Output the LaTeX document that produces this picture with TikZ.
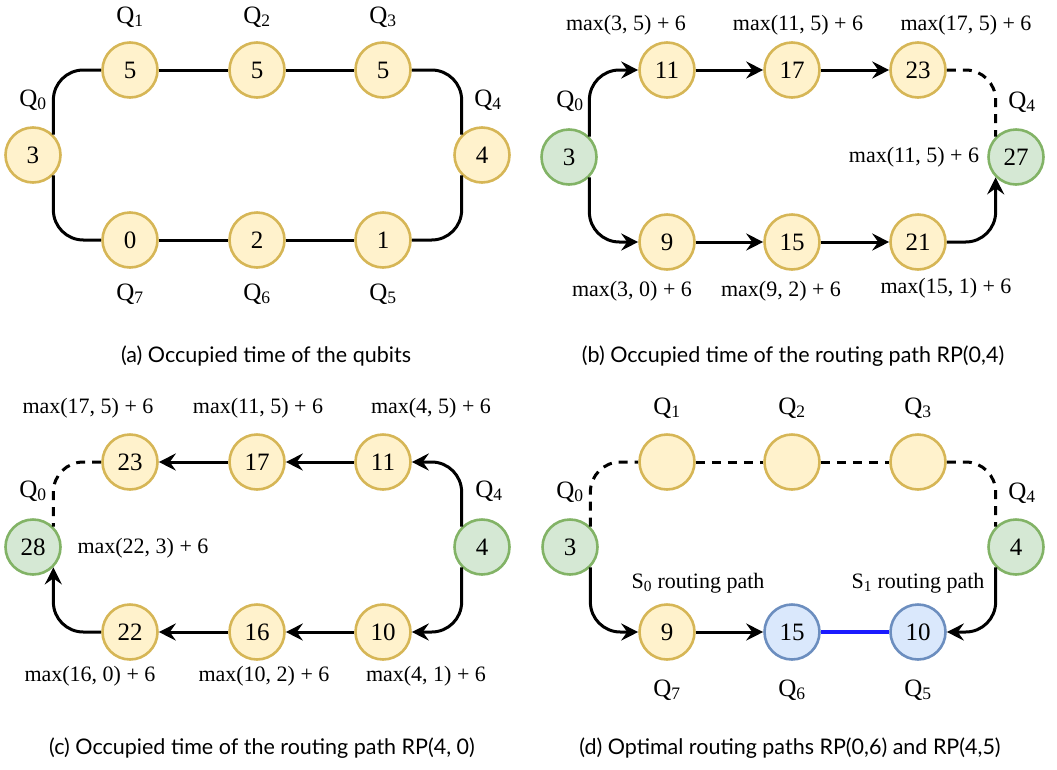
\documentclass[tikz,border=0pt]{standalone}
\usepackage{fontspec}
\setmainfont{Liberation Serif}
\newfontfamily\capfont{Lato}
\usetikzlibrary{arrows.meta}
\definecolor{ylwfill}{HTML}{FFF2CC}
\definecolor{ylwline}{HTML}{D6B656}
\definecolor{grnfill}{HTML}{D5E8D4}
\definecolor{grnline}{HTML}{82B366}
\definecolor{blufill}{HTML}{DAE8FC}
\definecolor{bluline}{HTML}{6C8EBF}
\definecolor{pathblue}{HTML}{1A1AFF}
\begin{document}
\begin{tikzpicture}[x=1pt, y=-1pt,
  qubit/.style={circle, draw=ylwline, fill=ylwfill, line width=2.6pt,
    minimum size=55pt, inner sep=0pt, font=\fontsize{25}{29}\selectfont},
  qgreen/.style={qubit, draw=grnline, fill=grnfill},
  qblue/.style={qubit, draw=bluline, fill=blufill},
  link/.style={line width=3pt, rounded corners=30pt},
  hop/.style={link, -{Stealth[length=17pt, width=17pt, inset=6pt]}},
  idle/.style={link, dash pattern=on 9pt off 7pt},
  tag/.style={font=\fontsize{22}{26}\selectfont},
  qname/.style={font=\fontsize{25}{29}\selectfont},
  caption/.style={font=\capfont\fontsize{21.5}{25}\selectfont}]
  \useasboundingbox (0,0) rectangle (1057,769);

  % (a) occupied time of every qubit
  \node[qubit] (a0) at (33,155) {3};
  \node[qubit] (a1) at (130,70) {5};
  \node[qubit] (a2) at (257,70) {5};
  \node[qubit] (a3) at (383,70) {5};
  \node[qubit] (a4) at (482,155) {4};
  \node[qubit] (a5) at (383,240) {1};
  \node[qubit] (a6) at (257,240) {2};
  \node[qubit] (a7) at (130,240) {0};
  \draw[link] (a0.north east) |- (a1.west);
  \draw[link] (a1) -- (a2) -- (a3);
  \draw[link] (a3.east) -| (a4.north west);
  \draw[link] (a0.south east) |- (a7.west);
  \draw[link] (a7) -- (a6) -- (a5);
  \draw[link] (a5.east) -| (a4.south west);
  \node[qname] (qa0) at (33,100) {Q\textsubscript{0}};
  \node[qname] (qa1) at (130,17) {Q\textsubscript{1}};
  \node[qname] (qa2) at (257,17) {Q\textsubscript{2}};
  \node[qname] (qa3) at (383,17) {Q\textsubscript{3}};
  \node[qname] (qa4) at (488,100) {Q\textsubscript{4}};
  \node[qname] (qa5) at (383,294) {Q\textsubscript{5}};
  \node[qname] (qa6) at (257,294) {Q\textsubscript{6}};
  \node[qname] (qa7) at (130,294) {Q\textsubscript{7}};
  \node[caption] (capa) at (266,356) {(a) Occupied time of the qubits};

  % (b) routing path RP(0,4)
  \node[qgreen] (b0) at (569,157) {3};
  \node[qubit] (b1) at (667,70) {11};
  \node[qubit] (b2) at (792,70) {17};
  \node[qubit] (b3) at (918,70) {23};
  \node[qgreen] (b4) at (1016,157) {27};
  \node[qubit] (b5) at (918,242) {21};
  \node[qubit] (b6) at (792,242) {15};
  \node[qubit] (b7) at (667,242) {9};
  \draw[hop] (b0.north east) |- (b1.west);
  \draw[hop] (b1) -- (b2);
  \draw[hop] (b2) -- (b3);
  \draw[idle] (b3.east) -| (b4.north west);
  \draw[hop] (b0.south east) |- (b7.west);
  \draw[hop] (b7) -- (b6);
  \draw[hop] (b6) -- (b5);
  \draw[hop] (b5.east) -| (b4.south west);
  \node[qname] (qb0) at (570,101) {Q\textsubscript{0}};
  \node[qname] (qb4) at (1022,102) {Q\textsubscript{4}};
  \node[tag] (tb1) at (626,25) {max(3, 5) + 6};
  \node[tag] (tb2) at (798,25) {max(11, 5) + 6};
  \node[tag] (tb3) at (966,25) {max(17, 5) + 6};
  \node[tag] (tb4) at (914,157) {max(11, 5) + 6};
  \node[tag] (tb7) at (632,291) {max(3, 0) + 6};
  \node[tag] (tb6) at (781,291) {max(9, 2) + 6};
  \node[tag] (tb5) at (946,288) {max(15, 1) + 6};
  \node[caption] (capb) at (793,356) {(b) Occupied time of the routing path RP(0,4)};

  % (c) routing path RP(4, 0)
  \node[qgreen] (c0) at (33,547) {28};
  \node[qubit] (c1) at (130,462) {23};
  \node[qubit] (c2) at (257,462) {17};
  \node[qubit] (c3) at (383,462) {11};
  \node[qgreen] (c4) at (482,547) {4};
  \node[qubit] (c5) at (383,632) {10};
  \node[qubit] (c6) at (257,632) {16};
  \node[qubit] (c7) at (130,632) {22};
  \draw[hop] (c4.north west) |- (c3.east);
  \draw[hop] (c3) -- (c2);
  \draw[hop] (c2) -- (c1);
  \draw[idle] (c1.west) -| (c0.north east);
  \draw[hop] (c4.south west) |- (c5.east);
  \draw[hop] (c5) -- (c6);
  \draw[hop] (c6) -- (c7);
  \draw[hop] (c7.west) -| (c0.south east);
  \node[qname] (qc0) at (33,491) {Q\textsubscript{0}};
  \node[qname] (qc4) at (489,491) {Q\textsubscript{4}};
  \node[tag] (tc1) at (88,408) {max(17, 5) + 6};
  \node[tag] (tc2) at (258,408) {max(11, 5) + 6};
  \node[tag] (tc3) at (431,408) {max(4, 5) + 6};
  \node[tag] (tc0) at (143,548) {max(22, 3) + 6};
  \node[tag] (tc7) at (90,676) {max(16, 0) + 6};
  \node[tag] (tc6) at (264,676) {max(10, 2) + 6};
  \node[tag] (tc5) at (426,676) {max(4, 1) + 6};
  \node[caption] (capc) at (262,748) {(c) Occupied time of the routing path RP(4, 0)};

  % (d) optimal routing paths
  \node[qgreen] (d0) at (570,547) {3};
  \node[qubit] (d1) at (667,462) {};
  \node[qubit] (d2) at (792,462) {};
  \node[qubit] (d3) at (918,462) {};
  \node[qgreen] (d4) at (1016,547) {4};
  \node[qblue] (d5) at (918,632) {10};
  \node[qblue] (d6) at (792,632) {15};
  \node[qubit] (d7) at (667,632) {9};
  \draw[idle] (d0.north east) |- (d1.west);
  \draw[idle] (d1) -- (d2) -- (d3);
  \draw[idle] (d3.east) -| (d4.north west);
  \draw[hop] (d0.south east) |- (d7.west);
  \draw[hop] (d7) -- (d6);
  \draw[line width=4.5pt, pathblue] (d6) -- (d5);
  \draw[hop] (d4.south west) |- (d5.east);
  \node[qname] (qd0) at (570,492) {Q\textsubscript{0}};
  \node[qname] (qd1) at (667,408) {Q\textsubscript{1}};
  \node[qname] (qd2) at (792,408) {Q\textsubscript{2}};
  \node[qname] (qd3) at (918,408) {Q\textsubscript{3}};
  \node[qname] (qd4) at (1022,493) {Q\textsubscript{4}};
  \node[qname] (qd5) at (918,690) {Q\textsubscript{5}};
  \node[qname] (qd6) at (792,690) {Q\textsubscript{6}};
  \node[qname] (qd7) at (667,690) {Q\textsubscript{7}};
  \node[tag] (sd0) at (698,583) {S\textsubscript{0} routing path};
  \node[tag] (sd1) at (918,583) {S\textsubscript{1} routing path};
  \node[caption] (capd) at (790,748) {(d) Optimal routing paths RP(0,6) and RP(4,5)};
\end{tikzpicture}
\end{document}
